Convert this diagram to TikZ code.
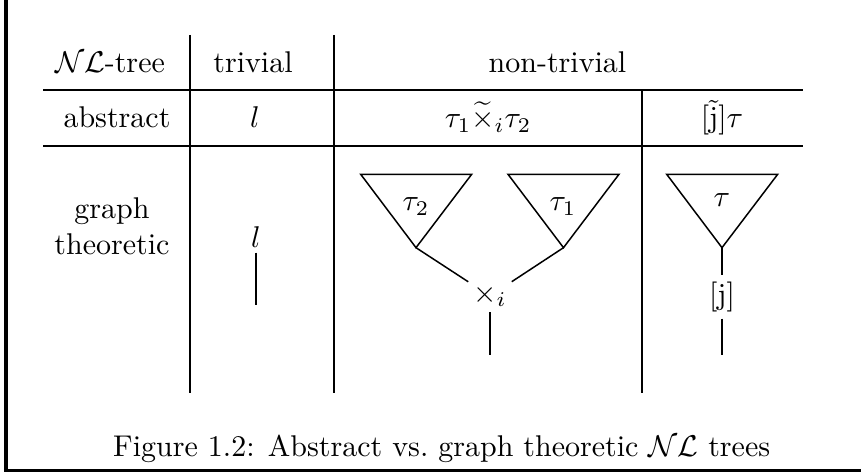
\documentclass[tikz,border=0pt]{standalone}
\usepackage{amsmath}
\usepackage{tikz}
\usetikzlibrary{positioning,calc}

\begin{document}
\begin{tikzpicture}[x=0.3333pt, y=-0.3333pt,
    frame/.style={line width=1pt},
    rule/.style={line width=0.45pt},
    lbl/.style={anchor=base, inner sep=0pt, font=\normalsize},
    tree/.style={line width=0.5pt},
    vertex/.style={inner sep=1.5pt, font=\normalsize},
    link/.style={line width=0.5pt}]

    \useasboundingbox (0,0) rectangle (861,475);

    % frame (left and bottom edge only)
    \draw[frame] (6,0) -- (6,471) -- (861,471);

    % table rules
    \draw[rule] (190,35) -- (190,393);
    \draw[rule] (334,35) -- (334,393);
    \draw[rule] (642,90) -- (642,393);
    \draw[rule] (43,90) -- (803,90);
    \draw[rule] (43,146) -- (803,146);

    % header row
    \node[lbl] (hTree) at (110,72.7) {$\mathcal{NL}$-tree};
    \node[lbl] (hTriv) at (253,72.7) {trivial};
    \node[lbl] (hNon) at (557.5,72.7) {non-trivial};

    % abstract row
    \node[lbl] (aHead) at (117,128) {abstract};
    \node[lbl] (aTriv) at (255,128) {$l$};
    \node[lbl] (aProd) at (488,128) {$\tau_1\widetilde{\times}_i\tau_2$};
    \node[lbl] (aBox) at (722,128) {$[\tilde{\mathrm{j}}]\tau$};

    % graph theoretic row
    \node[lbl, align=center] (gHead) at (112,255) {graph\\theoretic};

    % trivial tree
    \node[vertex] (gLeaf) at (256,237) {$l$};
    \coordinate (gLeafEnd) at (256,305);
    \draw[link] (gLeaf) -- (gLeafEnd);

    % product tree
    \coordinate (apexL) at (416,247.7);
    \coordinate (apexR) at (563.5,247.7);
    \draw[tree] (360.7,174.3) -- (471.7,174.3) -- (apexL) -- cycle;
    \draw[tree] (508,174.3) -- (619,174.3) -- (apexR) -- cycle;
    \node[lbl] (tauTwo) at (416,211) {$\tau_2$};
    \node[lbl] (tauOne) at (563,211) {$\tau_1$};
    \node[vertex] (cross) at (490,296) {$\times_i$};
    \coordinate (crossEnd) at (490,355);
    \draw[link] (apexL) -- (cross);
    \draw[link] (apexR) -- (cross);
    \draw[link] (cross) -- (crossEnd);

    % box tree
    \coordinate (apexJ) at (722,247.7);
    \draw[tree] (666.7,174.3) -- (777.7,174.3) -- (apexJ) -- cycle;
    \node[lbl] (tauJ) at (722,207) {$\tau$};
    \node[vertex, inner sep=2pt] (jBox) at (722,297) {$[\mathrm{j}]$};
    \coordinate (jEnd) at (722,355);
    \draw[link] (apexJ) -- (jBox);
    \draw[link] (jBox) -- (jEnd);

    % caption
    \node[lbl] (caption) at (441.7,456.7) {Figure 1.2: Abstract vs.\ graph theoretic $\mathcal{NL}$ trees};
\end{tikzpicture}
\end{document}
